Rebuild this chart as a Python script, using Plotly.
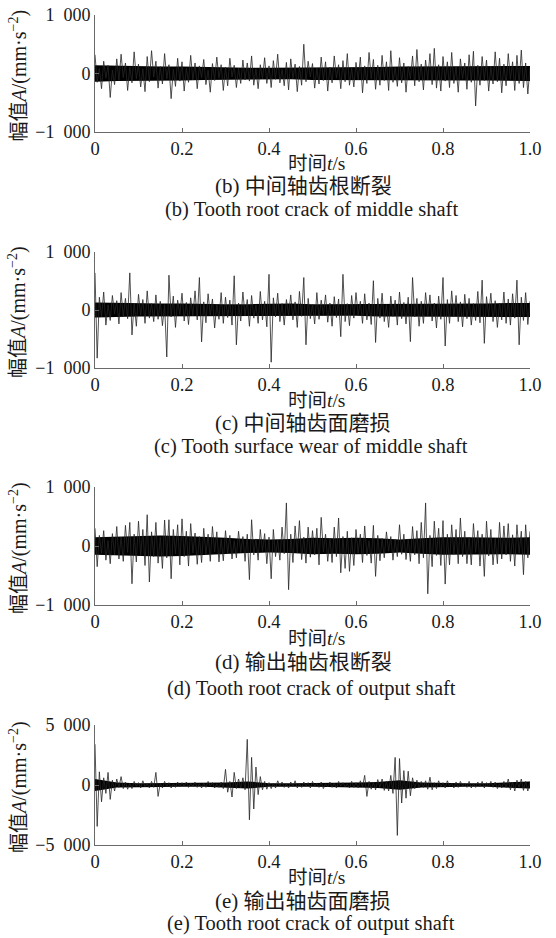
import numpy as np
import plotly.graph_objects as go

# ---------------- data ----------------
# time grid of the sampled signals (s)
t = np.round(np.arange(201) * 0.005, 3)
# time grid of the dense-core envelope (s)
t_core = np.round(np.arange(21) * 0.05, 2)

# (b) Tooth root crack of middle shaft  (mm/s^2)
sig_b = [320, -150, 90, -260, 210, -80, 140, -410, 60, -190,
         250, -120, 330, -70, 180, -290, 110, -160, 370, -90,
         160, -230, 80, -310, 290, -140, 390, -60, 210, -250,
         120, -180, 340, -90, 150, -430, 70, -220, 260, -130,
         200, -300, 90, -150, 310, -110, 180, -260, 130, -70,
         240, -190, 60, -320, 170, -120, 280, -80, 150, -290,
         110, -210, 260, -60, 140, -240, 90, -170, 230, -110,
         180, -130, 300, -200, 80, -260, 150, -90, 270, -170,
         130, -240, 220, -100, 330, -160, 70, -210, 190, -280,
         250, -90, 160, -310, 120, -200, 500, -140, 210, -60,
         170, -250, 90, -180, 280, -120, 200, -300, 110, -160,
         300, -80, 150, -260, 220, -140, 340, -200, 90, -230,
         190, -110, 280, -330, 130, -170, 360, -90, 240, -270,
         140, -200, 310, -120, 200, -290, 390, -150, 100, -220,
         270, -160, 180, -320, 120, -90, 300, -210, 410, -140,
         160, -280, 230, -110, 340, -190, 430, -250, 150, -300,
         290, -130, 200, -240, 360, -170, 110, -320, 250, -90,
         180, -270, 320, -150, 380, -555, 140, -200, 290, -120,
         230, -300, 120, -180, 370, -140, 260, -330, 160, -210,
         340, -100, 200, -290, 310, -170, 400, -240, 180, -350,
         120]
core_b_hi = [140, 130, 130, 120, 120, 110, 110, 100, 100, 100, 110,
             110, 110, 110, 120, 120, 120, 120, 120, 120, 130]
core_b_lo = [-140, -130, -130, -120, -120, -110, -110, -100, -100, -100, -110,
             -110, -110, -110, -120, -120, -120, -120, -120, -120, -130]

# (c) Tooth surface wear of middle shaft
sig_c = [640, -830, 220, -120, 310, -260, 90, -180, 250, -70,
         160, -240, 300, -110, 200, -150, 640, -430, 120, -280,
         270, -90, 180, -230, 330, -140, 110, -200, 260, -160,
         150, -270, 90, -810, 600, -120, 240, -300, 170, -80,
         290, -190, 130, -250, 210, -100, 330, -170, 560, -550,
         140, -220, 280, -90, 190, -310, 100, -160, 300, -230,
         220, -130, 170, -260, 590, -600, 120, -190, 310, -100,
         180, -280, 250, -140, 90, -230, 320, -170, 150, -290,
         615, -900, 210, -120, 290, -200, 110, -260, 180, -90,
         260, -170, 140, -300, 320, -110, 560, -600, 200, -150,
         100, -240, 300, -160, 170, -80, 260, -210, 120, -280,
         230, -130, 190, -460, 615, -200, 110, -270, 250, -140,
         300, -90, 150, -230, 280, -170, 120, -250, 505, -560,
         200, -140, 290, -200, 90, -300, 240, -110, 170, -260,
         310, -150, 130, -240, 220, -545, 560, -120, 200, -280,
         150, -230, 300, -100, 260, -190, 120, -310, 240, -160,
         560, -620, 180, -230, 330, -120, 250, -200, 140, -290,
         270, -150, 200, -260, 110, -180, 320, -220, 515, -575,
         230, -110, 290, -200, 160, -300, 120, -170, 310, -230,
         190, -260, 280, -140, 515, -600, 220, -180, 300, -250,
         150]
core_c_hi = [130, 120, 110, 110, 110, 100, 100, 100, 110, 110, 100,
             100, 100, 110, 110, 110, 110, 110, 110, 120, 120]
core_c_lo = [-130, -120, -110, -110, -110, -100, -100, -100, -110, -110, -100,
             -100, -100, -110, -110, -110, -110, -110, -110, -120, -120]

# (d) Tooth root crack of output shaft
sig_d = [300, -350, 180, -120, 260, -240, 90, -300, 210, -150,
         330, -220, 150, -260, 350, -110, 400, -640, 200, -270,
         420, -160, 280, -330, 530, -610, 240, -180, 400, -290,
         150, -380, 440, -200, 445, -555, 280, -130, 360, -320,
         460, -180, 250, -340, 380, -120, 220, -310, 160, -280,
         300, -150, 200, -260, 330, -100, 240, -270, 120, -250,
         260, -130, 180, -220, 90, -200, 250, -110, 160, -260,
         200, -570, 445, -150, 120, -240, 280, -90, 210, -300,
         150, -555, 280, -180, 100, -240, 320, -130, 730, -740,
         200, -280, 340, -120, 430, -230, 150, -290, 320, -190,
         260, -150, 300, -320, 485, -100, 200, -260, 130, -280,
         320, -180, 475, -455, 160, -380, 250, -430, 140, -330,
         280, -120, 200, -280, 340, -160, 90, -290, 350, -515,
         180, -250, 130, -200, 240, -90, 160, -240, 110, -180,
         360, -140, 200, -230, 120, -260, 330, -150, 260, -300,
         400, -200, 730, -810, 180, -350, 420, -160, 300, -330,
         430, -645, 200, -320, 360, -140, 280, -300, 475, -180,
         250, -300, 150, -320, 380, -110, 260, -340, 200, -515,
         420, -170, 280, -320, 130, -300, 400, -220, 340, -150,
         380, -260, 190, -340, 360, -120, 250, -485, 360, -200,
         250]
core_d_hi = [150, 160, 170, 180, 170, 160, 140, 120, 110, 120, 140,
             130, 140, 130, 110, 130, 150, 150, 140, 140, 150]
core_d_lo = [-150, -160, -170, -180, -170, -160, -140, -120, -110, -120, -140,
             -130, -140, -130, -110, -130, -150, -150, -140, -140, -150]

# (e) Tooth surface wear of output shaft
sig_e = [3400, -3450, 1100, -1400, 600, -700, 1050, -1200, 400, -500,
         500, -200, 700, -300, 250, -350, 150, -300, 300, -100,
         200, -250, 350, -150, 100, -250, 300, -200, 1050, -950,
         150, -250, 300, -100, 200, -250, 100, -200, 250, -150,
         200, -100, 250, -200, 150, -100, 250, -200, 100, -250,
         150, -200, 300, -100, 200, -250, 100, -200, 250, -300,
         1300, -600, 300, -1000, 1050, -300, 500, -250, 600, -400,
         3800, -2900, 2300, -2000, 1500, -800, 700, -400, 300, -350,
         200, -300, 150, -250, 350, -100, 250, -200, 100, -250,
         250, -150, 350, -250, 100, -200, 250, -100, 200, -250,
         300, -100, 150, -200, 250, -300, 100, -150, 250, -200,
         150, -250, 300, -100, 200, -150, 100, -250, 300, -200,
         200, -250, 350, -150, 800, -950, 300, -350, 200, -400,
         450, -200, 500, -450, 300, -500, 800, -700, 2300, -4200,
         2200, -1500, 1200, -1100, 1150, -900, 600, -300, 400, -250,
         300, -200, 350, -350, 650, -400, 200, -300, 350, -150,
         200, -250, 350, -100, 150, -250, 250, -200, 300, -100,
         150, -200, 300, -250, 100, -200, 250, -150, 300, -250,
         200, -150, 300, -200, 250, -300, 100, -250, 300, -200,
         500, -400, 250, -500, 400, -200, 500, -450, 300, -500,
         300]
core_e_hi = [500, 200, 150, 150, 150, 150, 200, 300, 150, 150, 150,
             150, 200, 250, 400, 200, 150, 150, 150, 200, 300]
core_e_lo = [-500, -200, -150, -150, -150, -150, -200, -300, -150, -150, -150,
             -150, -200, -250, -400, -200, -150, -150, -150, -200, -300]

x_tickvals = [0, 0.2, 0.4, 0.6, 0.8, 1.0]
x_ticktext = ["0", "0.2", "0.4", "0.6", "0.8", "1.0"]
y_ticks_small = [-1000, 0, 1000]
y_text_small = ["\u22121\u2002000", "0", "1\u2002000"]
y_ticks_big = [-5000, 0, 5000]
y_text_big = ["\u22125\u2002000", "0", "5\u2002000"]

captions_cn = ["(b) 中间轴齿根断裂", "(c) 中间轴齿面磨损",
               "(d) 输出轴齿根断裂", "(e) 输出轴齿面磨损"]
captions_en = ["(b) Tooth root crack of middle shaft",
               "(c) Tooth surface wear of middle shaft",
               "(d) Tooth root crack of output shaft",
               "(e) Tooth root crack of output shaft"]
x_title = "时间<i>t</i>/s"
y_title = "幅值<i>A</i>/(mm·s<sup>\u22122</sup>)"

# ---------------- layout geometry (page pixels) ----------------
W, H = 556, 938
X0, X1 = 95, 530
panels = [
    dict(top=15, bot=132, xt=164, cn=186, en=209),
    dict(top=252, bot=368, xt=400, cn=423, en=447),
    dict(top=487, bot=605, xt=638, cn=662, en=688),
    dict(top=725, bot=845, xt=877, cn=901, en=923),
]
signals = [sig_b, sig_c, sig_d, sig_e]
cores = [(core_b_hi, core_b_lo), (core_c_hi, core_c_lo),
         (core_d_hi, core_d_lo), (core_e_hi, core_e_lo)]

SERIF = "Liberation Serif, 'Times New Roman', 'Noto Sans CJK SC', serif"
CJK = "Liberation Serif, 'Noto Sans CJK SC', serif"
AXC = "#6a6a6a"
TXT = "#1a1a1a"


def px_x(px):
    return px / W


def px_y(px):
    return 1 - px / H


fig = go.Figure()
layout = dict(width=W, height=H, margin=dict(l=0, r=0, t=0, b=0),
              paper_bgcolor="white", plot_bgcolor="white",
              showlegend=False, font=dict(family=SERIF, size=18, color=TXT))
annotations = []

for i, (p, sig, (hi, lo)) in enumerate(zip(panels, signals, cores)):
    k = "" if i == 0 else str(i + 1)
    xa, ya = "x" + k, "y" + k
    big = i == 3
    fig.add_trace(go.Scatter(
        x=list(t_core) + list(t_core[::-1]), y=list(hi) + list(lo[::-1]),
        fill="toself", fillcolor="black", line=dict(width=0),
        mode="lines", xaxis=xa, yaxis=ya, hoverinfo="skip"))
    fig.add_trace(go.Scatter(
        x=t, y=sig, mode="lines", line=dict(color="#262626", width=0.8),
        xaxis=xa, yaxis=ya))
    layout["xaxis" + k] = dict(
        domain=[px_x(X0), px_x(X1)], anchor=ya, range=[0, 1.0], automargin=False,
        showline=True, linecolor=AXC, linewidth=1, ticks="inside",
        ticklen=4, tickcolor=AXC, tickvals=x_tickvals, ticktext=x_ticktext,
        ticklabeloverflow="allow",
        showgrid=False, zeroline=False, tickfont=dict(size=18.5, color=TXT))
    layout["yaxis" + k] = dict(
        domain=[px_y(p["bot"]), px_y(p["top"])], anchor=xa, automargin=False,
        range=[-5000, 5000] if big else [-1000, 1000],
        showline=True, linecolor=AXC, linewidth=1, ticks="inside",
        ticklen=4, tickcolor=AXC, ticklabeloverflow="allow",
        tickvals=y_ticks_big if big else y_ticks_small,
        ticktext=y_text_big if big else y_text_small,
        showgrid=False, zeroline=False, tickfont=dict(size=18, color=TXT))
    annotations.append(dict(x=px_x(316), y=px_y(p["xt"]), xref="paper", yref="paper",
                            text=x_title, showarrow=False, font=dict(size=19.5, family=CJK),
                            xanchor="center", yanchor="middle"))
    annotations.append(dict(x=px_x(303), y=px_y(p["cn"]), xref="paper", yref="paper",
                            text=captions_cn[i], showarrow=False, font=dict(size=21, family=CJK),
                            xanchor="center", yanchor="middle"))
    annotations.append(dict(x=px_x(311), y=px_y(p["en"]), xref="paper", yref="paper",
                            text=captions_en[i], showarrow=False, font=dict(size=20.5, family=SERIF),
                            xanchor="center", yanchor="middle"))
    annotations.append(dict(x=px_x(18), y=px_y((p["top"] + p["bot"]) / 2 + 2),
                            xref="paper", yref="paper",
                            text=y_title, showarrow=False, textangle=-90,
                            font=dict(size=20, family=CJK),
                            xanchor="center", yanchor="middle"))

layout["annotations"] = annotations
fig.update_layout(**layout)
# remove the default 8px page margin so the figure fills the 556x938 window
fig.write_html("out.html", config={"displayModeBar": False},
               post_script="document.body.style.margin='0px';")
